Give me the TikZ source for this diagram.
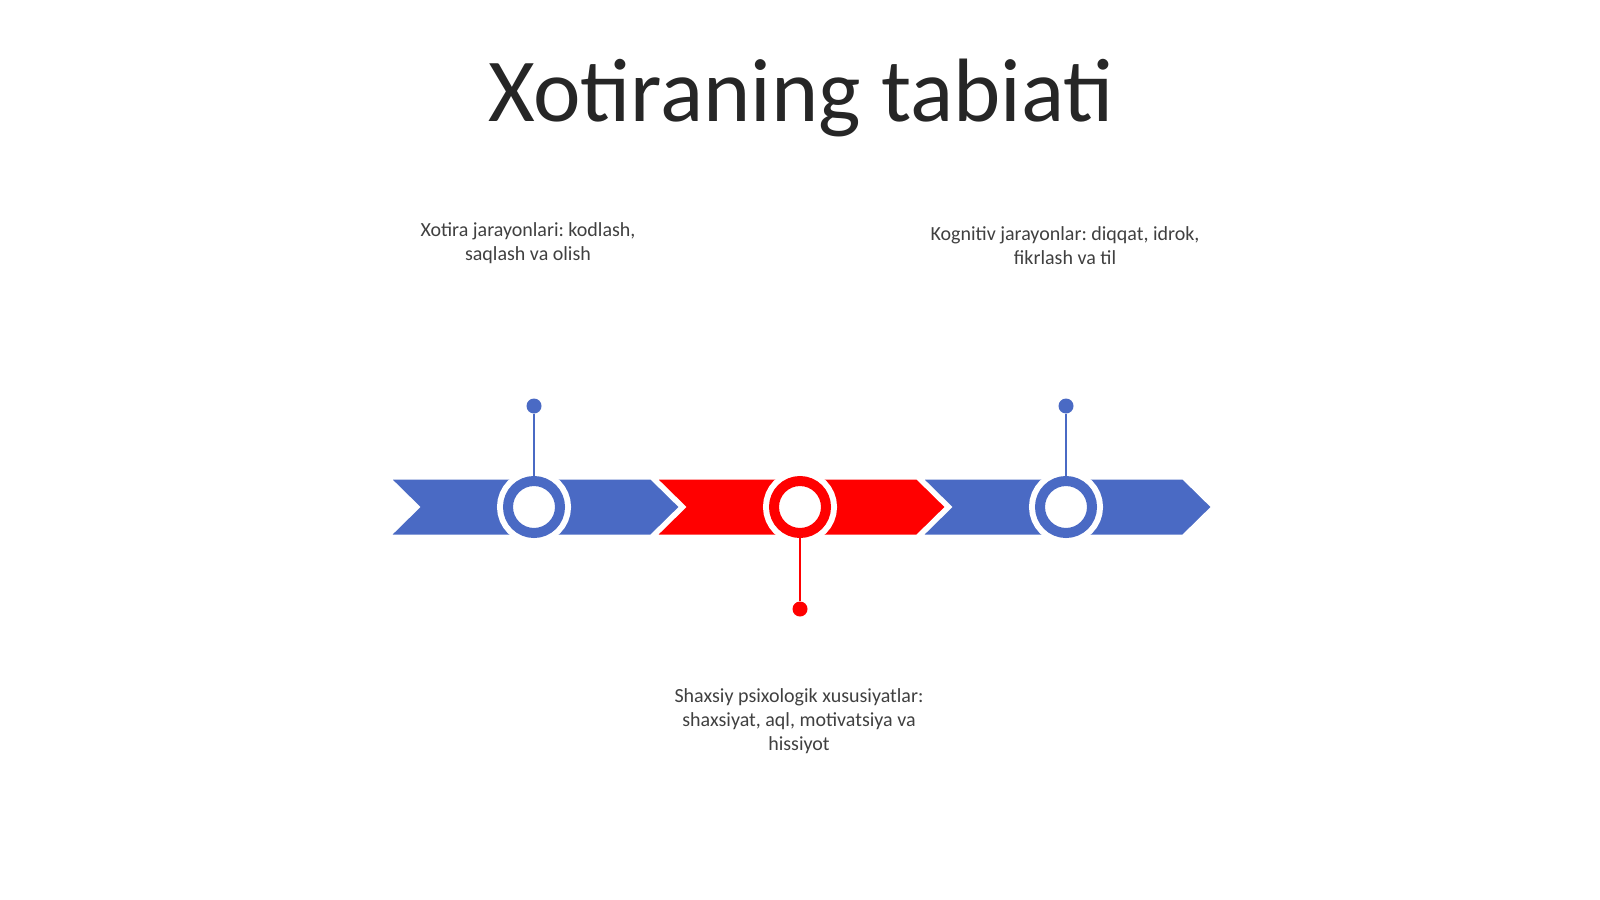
\documentclass[tikz,border=0pt]{standalone}
\usepackage{fontspec}
\setmainfont{Carlito}
\usepackage{tikz}
\frenchspacing

\definecolor{tlblue}{RGB}{74,106,196}
\definecolor{tlred}{RGB}{255,0,0}
\definecolor{tltext}{RGB}{64,64,64}
\definecolor{tltitle}{RGB}{38,38,38}

\tikzset{
  ring/.style={circle, minimum size=52, inner sep=0pt, fill=white,
    draw=white, line width=6pt, double=#1, double distance=10pt},
  dot/.style={circle, fill=#1, minimum size=15, inner sep=0pt},
  stem/.style={draw=#1, line width=2.5pt},
  label/.style={text=tltext, align=center, font=\fontsize{20}{24}\selectfont}
}

\begin{document}
\begin{tikzpicture}[x=1pt, y=-1pt]
  \useasboundingbox (0,0) rectangle (1600,899);
  \fill[white] (0,0) rectangle (1600,899);

  % Title
  \node[anchor=base, text=tltitle, font=\fontsize{90}{100}\selectfont] (title) at (801,121) {Xotiraning tabiati};

  % Chevron band
  \foreach \i/\col in {0/tlblue, 1/tlred, 2/tlblue} {
    \begin{scope}[shift={(266*\i,0)}]
      \filldraw[fill=\col, draw=white, line width=2pt, line join=miter]
        (390,478.5) -- (651,478.5) -- (680,507) -- (651,535.5) -- (390,535.5) -- (419,507) -- cycle;
    \end{scope}
  }

  % Rings on the band
  \node[ring=tlblue] (c1) at (534,507) {};
  \node[ring=tlred] (c2) at (800,507) {};
  \node[ring=tlblue] (c3) at (1066,507) {};

  % Pins
  \node[dot=tlblue] (d1) at (534,406) {};
  \node[dot=tlred] (d2) at (800,609) {};
  \node[dot=tlblue] (d3) at (1066,406) {};
  \draw[stem=tlblue] (d1) -- (c1);
  \draw[stem=tlred] (d2) -- (c2);
  \draw[stem=tlblue] (d3) -- (c3);

  % Labels
  \node[label] (t1) at (528,243) {Xotira jarayonlari: kodlash,\\saqlash va olish};
  \node[label] (t3) at (1065,246) {Kognitiv jarayonlar: diqqat, idrok,\\fikrlash va til};
  \node[label] (t2) at (799,721) {Shaxsiy psixologik xususiyatlar:\\shaxsiyat, aql, motivatsiya va\\hissiyot};
\end{tikzpicture}
\end{document}
